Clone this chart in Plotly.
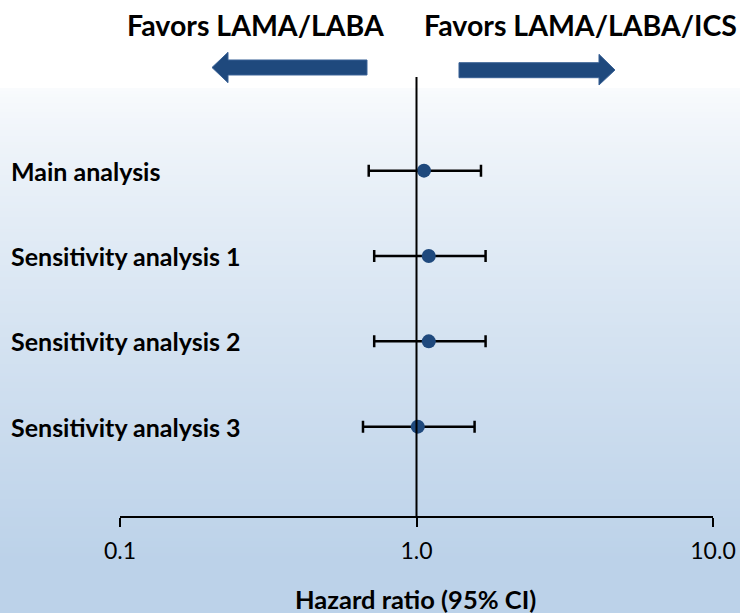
import plotly.graph_objects as go

# ---- data ----
categories = ["Main analysis", "Sensitivity analysis 1", "Sensitivity analysis 2", "Sensitivity analysis 3"]
hazard_ratio = [1.06, 1.10, 1.10, 1.01]
ci_lower = [0.69, 0.72, 0.72, 0.66]
ci_upper = [1.65, 1.71, 1.71, 1.57]
tick_values = [0.1, 1.0, 10.0]
tick_labels = ["0.1", "1.0", "10.0"]
left_header = "Favors LAMA/LABA"
right_header = "Favors LAMA/LABA/ICS"
x_title = "Hazard ratio (95% CI)"

W, H = 740, 613
L, R, T, B = 120, 27, 85, 97
PW, PH = W - L - R, H - T - B

def px(xpix):
    return (xpix - L) / PW

def py(ypix):
    return (H - B - ypix) / PH

FONT = "Lato"
BLUE = "#1f497d"

ypos = list(range(len(categories)))
err_plus = [u - h for u, h in zip(ci_upper, hazard_ratio)]
err_minus = [h - l for h, l in zip(hazard_ratio, ci_lower)]

fig = go.Figure()
fig.add_trace(go.Scatter(
    x=hazard_ratio, y=ypos, mode="markers",
    marker=dict(size=14, color=BLUE),
    error_x=dict(type="data", array=err_plus, arrayminus=err_minus,
                 color="black", thickness=2.5, width=6),
    showlegend=False, hoverinfo="x",
))

shapes = []
# gradient background
top, bot = 88, H
c0 = (249, 251, 253)
c1 = (188, 210, 233)
step = 3
y = top
while y < bot:
    t = (y - top) / (560 - top)
    t = min(max(t, 0), 1) ** 0.8
    c = tuple(round(a + (b - a) * t) for a, b in zip(c0, c1))
    shapes.append(dict(type="rect", xref="paper", yref="paper",
                       x0=px(0), x1=px(W), y0=py(min(y + step + 1, bot)), y1=py(y),
                       fillcolor="rgb(%d,%d,%d)" % c, line=dict(width=0), layer="below"))
    y += step

# vertical reference line at HR = 1
shapes.append(dict(type="line", xref="x", yref="paper", x0=1, x1=1,
                   y0=py(516), y1=py(77), line=dict(color="black", width=2)))

# arrows
def arrow_path(pts):
    return "M " + " L ".join("%f,%f" % (px(a), py(b)) for a, b in pts) + " Z"

left_arrow = [(212, 67.5), (228, 52.3), (228, 60), (367, 60), (367, 75), (228, 75), (228, 82.7)]
right_arrow = [(459, 62.7), (599, 62.7), (599, 54.3), (615, 70), (599, 85), (599, 77.7), (459, 77.7)]
for pts in (left_arrow, right_arrow):
    shapes.append(dict(type="path", xref="paper", yref="paper", path=arrow_path(pts),
                       fillcolor=BLUE, line=dict(color="#3a6296", width=1)))

annotations = []
annotations.append(dict(text="<b>%s</b>" % left_header, x=px(255.5), y=py(25), xref="paper", yref="paper",
                        showarrow=False, xanchor="center", yanchor="middle",
                        font=dict(family=FONT, size=28.5, color="black")))
annotations.append(dict(text="<b>%s</b>" % right_header, x=px(580), y=py(25), xref="paper", yref="paper",
                        showarrow=False, xanchor="center", yanchor="middle",
                        font=dict(family=FONT, size=28.5, color="black")))
for cat, yy in zip(categories, ypos):
    annotations.append(dict(text="<b>%s</b>" % cat, x=px(9), y=yy, xref="paper", yref="y",
                            showarrow=False, xanchor="left", yanchor="middle",
                            font=dict(family=FONT, size=25, color="black")))
annotations.append(dict(text="<b>%s</b>" % x_title, x=px(415), y=py(598.5), xref="paper", yref="paper",
                        showarrow=False, xanchor="center", yanchor="middle",
                        font=dict(family=FONT, size=25.5, color="black")))

fig.update_layout(
    width=W, height=H, autosize=False,
    margin=dict(l=L, r=R, t=T, b=B, pad=0, autoexpand=False),
    paper_bgcolor="white",
    plot_bgcolor="rgba(0,0,0,0)",
    shapes=shapes,
    annotations=annotations,
    xaxis=dict(type="log", range=[-1, 1], tickvals=tick_values, ticktext=tick_labels,
               showgrid=False, zeroline=False, showline=True, linecolor="black", linewidth=2,
               ticks="outside", ticklen=9, tickwidth=2, tickcolor="black", automargin=False,
               tickfont=dict(family=FONT, size=23, color="black"), ticklabelstandoff=4),
    yaxis=dict(range=[4.047, -1.004], showticklabels=False, showgrid=False, zeroline=False,
               showline=False, ticks="", automargin=False),
    hovermode="closest",
)

fig.write_html("out.html", config={"displayModeBar": False},
               post_script="document.body.style.margin='0';document.body.style.overflow='hidden';")
